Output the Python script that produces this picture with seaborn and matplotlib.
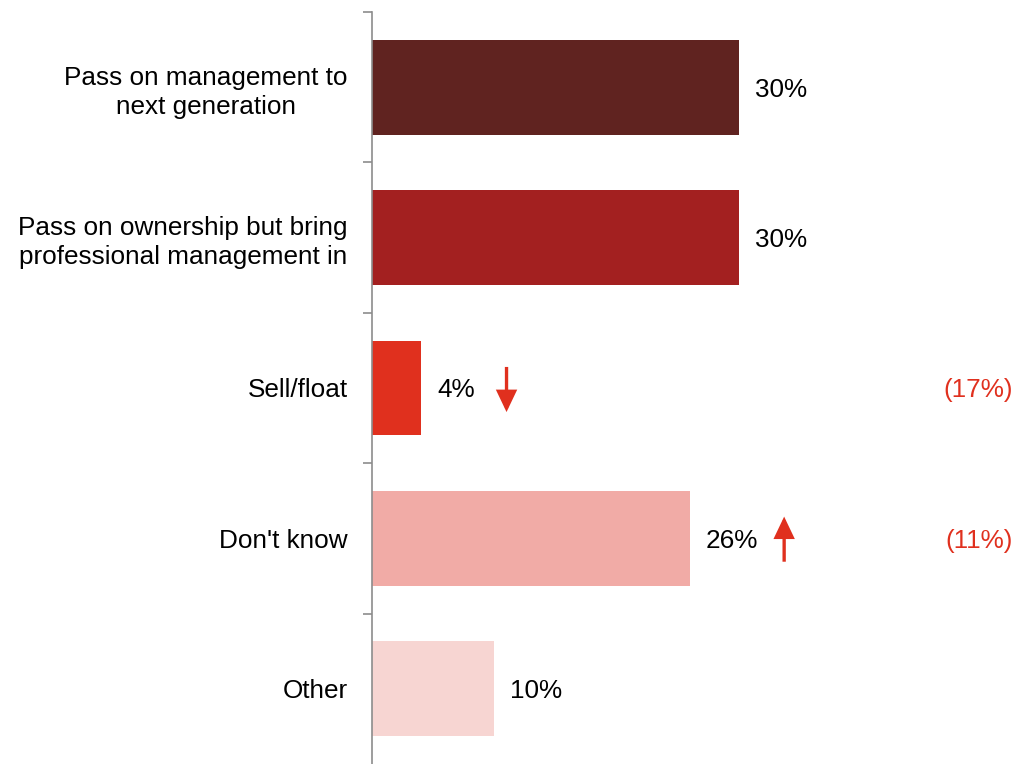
import matplotlib
matplotlib.use("Agg")
import matplotlib.pyplot as plt
import seaborn as sns
import pandas as pd

# Succession intentions for the family business
categories = [
    "Pass on management to\nnext generation",
    "Pass on ownership but bring\nprofessional management in",
    "Sell/float",
    "Don't know",
    "Other",
]
values = [30, 30, 4, 26, 10]
value_labels = ["30%", "30%", "4%", "26%", "10%"]
bar_colors = ["#602320", "#A32020", "#E0301E", "#F1ABA6", "#F7D5D2"]

# Change versus the previous survey
change_categories = ["Sell/float", "Don't know"]
change_direction = ["down", "up"]
change_labels = ["(17%)", "(11%)"]

RED = "#E0301E"
AXIS_GREY = "#8C8C8C"
FONT = "Liberation Sans"
FS = 18.8

sns.set_theme(style="white")
plt.rcParams["font.family"] = [FONT, "DejaVu Sans"]

df = pd.DataFrame({"category": categories, "value": values})

W, H = 1014, 764
fig = plt.figure(figsize=(W / 100, H / 100), dpi=100)
ax_left, ax_top = 372, 12
ax = fig.add_axes([ax_left / W, 0, (W - ax_left) / W, (H - ax_top) / H])

px_per_unit = 12.23
xmax = (W - ax_left) / px_per_unit

sns.barplot(
    data=df, x="value", y="category", hue="category",
    palette=bar_colors, legend=False, width=0.63, saturation=1,
    orient="h", ax=ax, edgecolor="none", linewidth=0,
)

ax.set_xlim(0, xmax)
ax.set_ylim(len(categories) - 0.5, -0.5)
ax.set_xlabel("")
ax.set_ylabel("")
ax.set_xticks([])

# Category labels at bar centres, tick marks at the category boundaries
ax.set_yticks(range(len(categories)))
ax.set_yticklabels(categories, fontsize=FS, color="black",
                   multialignment="center", linespacing=1.28)
ax.tick_params(axis="y", which="major", length=0, pad=17.3)
ax.set_yticks([i - 0.5 for i in range(len(categories))], minor=True)
ax.tick_params(axis="y", which="minor", length=6.5, width=1.2,
               color=AXIS_GREY, direction="out", left=True)

for side in ["top", "right", "bottom"]:
    ax.spines[side].set_visible(False)
ax.spines["left"].set_color(AXIS_GREY)
ax.spines["left"].set_linewidth(1.2)

# Value labels beside each bar
for i, (v, lab) in enumerate(zip(values, value_labels)):
    ax.annotate(lab, xy=(v, i), xytext=(11.5, 0), textcoords="offset points",
                ha="left", va="center_baseline", fontsize=FS, color="black")

# Change arrows and bracketed changes
arrow_x = {"Sell/float": 11.0, "Don't know": 33.7}
for cat, direction, lab in zip(change_categories, change_direction, change_labels):
    i = categories.index(cat)
    x = arrow_x[cat]
    if direction == "down":
        start, end = i - 0.14, i + 0.16
    else:
        start, end = i + 0.155, i - 0.145
    ax.annotate("", xy=(x, end), xytext=(x, start),
                arrowprops=dict(arrowstyle="-|>,head_length=0.42,head_width=0.2",
                                mutation_scale=29, lw=2.4, color=RED,
                                shrinkA=0, shrinkB=0, joinstyle="miter",
                                capstyle="butt"))
    ax.text(xmax - 0.1, i, lab, ha="right", va="center_baseline",
            fontsize=FS, color=RED)

fig.savefig("out.png", dpi=100)
